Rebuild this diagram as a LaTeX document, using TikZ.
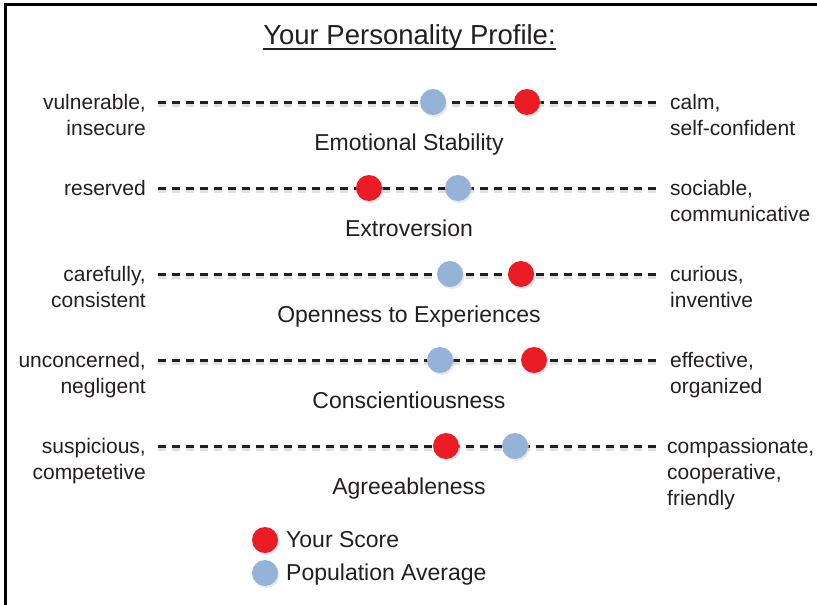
\documentclass[tikz,border=0pt]{standalone}
\usepackage{fontspec}
\setmainfont{Liberation Sans}
\definecolor{txt}{HTML}{231F20}
\definecolor{dotred}{HTML}{EC1C24}
\definecolor{dotblue}{HTML}{95B3D7}
\begin{document}
\begin{tikzpicture}[x=1pt,y=-1pt,
  txtstyle/.style={text=txt, inner sep=0pt, font=\fontsize{21}{26}\selectfont},
  leftlab/.style={txtstyle, align=right, anchor=base east},
  rightlab/.style={txtstyle, align=left, anchor=base west},
  traitlab/.style={text=txt, inner sep=0pt, font=\fontsize{23}{28}\selectfont, anchor=base},
  dashline/.style={draw=txt, line width=3pt, dash pattern=on 8pt off 6pt},
  dashshadow/.style={draw=black!12, line width=3pt, dash pattern=on 8pt off 6pt},
  dotbase/.style={circle, minimum size=26pt, inner sep=0pt},
  scoredot/.style={dotbase, fill=dotred},
  avgdot/.style={dotbase, fill=dotblue},
  dotshadow/.style={circle, minimum size=26pt, inner sep=0pt, fill=black!18}
]
\useasboundingbox (0,0) rectangle (817,605);
\fill[white] (0,0) rectangle (817,605);
% frame
\draw[line width=3pt, black] (5,606) -- (5,4.5) -- (818,4.5);

% title
\node[font=\fontsize{27.5}{33}\selectfont, text=txt, anchor=base, inner sep=0pt] (title) at (409.5,44) {Your Personality Profile:};
\draw[txt, line width=1.8pt] ([yshift=-5pt]title.base west) -- ([yshift=-5pt]title.base east);

% row coordinates
\foreach \i/\y in {1/102,2/188,3/274,4/360,5/446}{
  \coordinate (a\i) at (158,\y);
  \coordinate (b\i) at (656,\y);
  \draw[dashshadow] ([yshift=-3pt]a\i) -- ([yshift=-3pt]b\i);
  \draw[dashline] (a\i) -- (b\i);
}

% dots
\node[dotshadow, fill opacity=0.5] at (434.5,104) {};
\node[dotshadow, fill opacity=0.5] at (528.5,104) {};
\node[avgdot] (p1) at (433,102) {};
\node[scoredot] (s1) at (527,102) {};

\node[dotshadow, fill opacity=0.5] at (370.5,190) {};
\node[dotshadow, fill opacity=0.5] at (459.5,190) {};
\node[scoredot] (s2) at (369,188) {};
\node[avgdot] (p2) at (458,188) {};

\node[dotshadow, fill opacity=0.5] at (451.5,276) {};
\node[dotshadow, fill opacity=0.5] at (522.5,276) {};
\node[avgdot] (p3) at (450,274) {};
\node[scoredot] (s3) at (521,274) {};

\node[dotshadow, fill opacity=0.5] at (441.5,362) {};
\node[dotshadow, fill opacity=0.5] at (535.5,362) {};
\node[avgdot] (p4) at (440,360) {};
\node[scoredot] (s4) at (534,360) {};

\node[dotshadow, fill opacity=0.5] at (447.5,448) {};
\node[dotshadow, fill opacity=0.5] at (516.5,448) {};
\node[scoredot] (s5) at (446,446) {};
\node[avgdot] (p5) at (515,446) {};

% trait labels
\node[traitlab] (t1) at (409,150) {Emotional Stability};
\node[traitlab] (t2) at (409,236) {Extroversion};
\node[traitlab] (t3) at (409,322) {Openness to Experiences};
\node[traitlab] (t4) at (409,408) {Conscientiousness};
\node[traitlab] (t5) at (409,494) {Agreeableness};

% left labels (base anchor = last line)
\node[leftlab] (l1) at (146,135) {vulnerable,\\insecure};
\node[leftlab] (l2) at (146,195) {reserved};
\node[leftlab] (l3) at (146,307) {carefully,\\consistent};
\node[leftlab] (l4) at (146,393) {unconcerned,\\negligent};
\node[leftlab] (l5) at (146,479) {suspicious,\\competetive};

% right labels
\node[rightlab] (r1) at (670,135) {calm,\\self-confident};
\node[rightlab] (r2) at (670,221) {sociable,\\communicative};
\node[rightlab] (r3) at (670,307) {curious,\\inventive};
\node[rightlab] (r4) at (670,393) {effective,\\organized};
\node[rightlab] (r5) at (667,505) {compassionate,\\cooperative,\\friendly};

% legend
\node[dotshadow, fill opacity=0.5] at (266.5,542) {};
\node[dotshadow, fill opacity=0.5] at (266.5,575) {};
\node[scoredot] (ls) at (265,540) {};
\node[avgdot] (lp) at (265,573) {};
\node[traitlab, anchor=base west] (lst) at (286,547) {Your Score};
\node[traitlab, anchor=base west] (lpt) at (286,580) {Population Average};
\end{tikzpicture}
\end{document}
